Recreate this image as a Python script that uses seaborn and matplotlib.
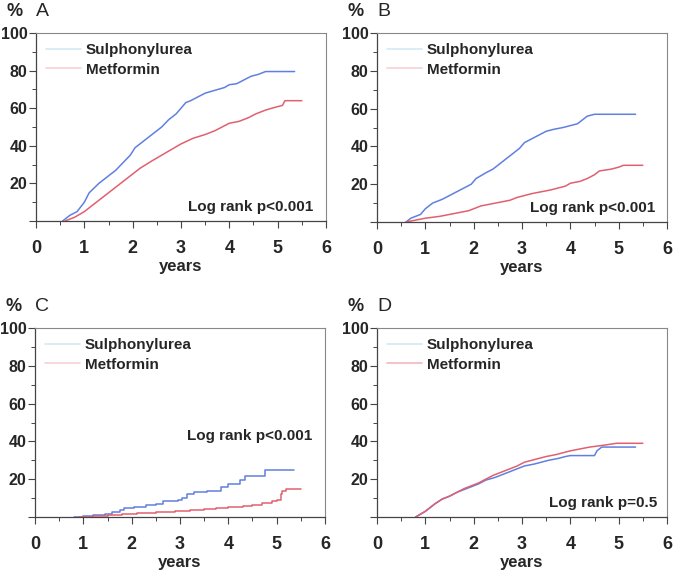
import numpy as np
import pandas as pd
import matplotlib
matplotlib.use("Agg")
import matplotlib.pyplot as plt
from matplotlib.lines import Line2D
from matplotlib.ticker import MultipleLocator, FixedLocator
import seaborn as sns

# Cumulative incidence (%)
a_su_t = [0.55, 0.7, 0.85, 1.0, 1.1, 1.3, 1.45, 1.65, 1.8, 1.95, 2.05, 2.25, 2.4, 2.6, 2.75, 2.9, 3.0, 3.1, 3.2, 3.35, 3.5, 3.7, 3.9, 4.0, 4.15, 4.3, 4.45, 4.6, 4.75, 5.35]
a_su_y = [0, 3, 5, 10, 15, 20, 23, 27, 31, 35, 39, 43, 46, 50, 54, 57, 60, 63, 64, 66, 68, 69.5, 71, 72.5, 73, 75, 77, 78, 79.5, 79.5]
a_mf_t = [0.6, 0.8, 1.0, 1.15, 1.35, 1.55, 1.75, 1.95, 2.15, 2.4, 2.6, 2.8, 3.0, 3.25, 3.5, 3.7, 3.85, 4.0, 4.2, 4.4, 4.55, 4.75, 4.95, 5.1, 5.15, 5.5]
a_mf_y = [0, 2, 5, 8, 12, 16, 20, 24, 28, 32, 35, 38, 41, 44, 46, 48, 50, 52, 53, 55, 57, 59, 60.5, 61.5, 64, 64]

b_su_t = [0.6, 0.7, 0.9, 1.0, 1.15, 1.35, 1.5, 1.65, 1.8, 1.95, 2.05, 2.25, 2.4, 2.55, 2.7, 2.85, 2.95, 3.05, 3.2, 3.35, 3.5, 3.65, 3.85, 4.0, 4.15, 4.25, 4.35, 4.5, 5.35]
b_su_y = [0, 2, 4, 7, 10, 12, 14, 16, 18, 20, 23, 26, 28, 31, 34, 37, 39, 42, 44, 46, 48, 49, 50, 51, 52, 54, 56, 57, 57]
b_mf_t = [0.6, 0.8, 1.0, 1.3, 1.5, 1.7, 1.9, 2.0, 2.15, 2.35, 2.55, 2.75, 2.9, 3.05, 3.2, 3.4, 3.6, 3.75, 3.9, 4.0, 4.2, 4.35, 4.5, 4.6, 4.85, 5.0, 5.1, 5.5]
b_mf_y = [0, 1, 2, 3, 4, 5, 6, 7, 8.5, 9.5, 10.5, 11.5, 13, 14, 15, 16, 17, 18, 19, 20.5, 21.5, 23, 25, 27, 28, 29, 30, 30]

c_su_t = [0.8, 1.0, 1.2, 1.45, 1.6, 1.75, 1.85, 2.05, 2.3, 2.5, 2.65, 2.95, 3.05, 3.15, 3.3, 3.55, 3.75, 3.85, 4.0, 4.25, 4.35, 4.75, 5.35]
c_su_y = [0, 0.5, 1, 1.5, 2.5, 3.5, 5, 5.5, 6.5, 7, 8.5, 9, 10, 12, 13, 13.5, 14, 16, 17.5, 19.5, 21.5, 25, 25]
c_mf_t = [0.9, 1.2, 1.5, 1.8, 2.1, 2.5, 2.9, 3.2, 3.5, 3.75, 3.9, 4.0, 4.3, 4.5, 4.7, 4.9, 5.0, 5.08, 5.12, 5.2, 5.5]
c_mf_y = [0, 0.5, 1, 1.5, 2, 2.5, 3, 3.5, 4, 4.5, 5, 5.5, 6, 6.5, 7.5, 8.5, 9, 12, 14, 15, 15]

d_su_t = [0.8, 0.9, 1.0, 1.1, 1.2, 1.35, 1.5, 1.65, 1.8, 1.95, 2.1, 2.25, 2.45, 2.65, 2.8, 2.95, 3.05, 3.25, 3.4, 3.55, 3.75, 3.9, 4.0, 4.5, 4.55, 4.65, 5.35]
d_su_y = [0, 1.5, 3, 5, 7, 9.5, 11, 13, 14.5, 16, 17.5, 19.5, 21, 23, 24.5, 26, 27, 28, 29, 30, 31, 32, 32.5, 32.5, 35, 37, 37]
d_mf_t = [0.8, 1.0, 1.1, 1.2, 1.35, 1.5, 1.65, 1.8, 1.95, 2.1, 2.25, 2.4, 2.6, 2.75, 2.9, 3.05, 3.2, 3.35, 3.5, 3.7, 3.85, 4.0, 4.2, 4.4, 4.7, 4.95, 5.5]
d_mf_y = [0, 3, 5, 7, 9.5, 11, 13, 15, 16.5, 18, 20, 22, 24, 25.5, 27, 29, 30, 31, 32, 33, 34, 35, 36, 37, 38, 39, 39]

panel_letters = ["A", "B", "C", "D"]
pvalue_labels = ["Log rank p<0.001", "Log rank p<0.001", "Log rank p<0.001", "Log rank p=0.5"]
series_names = ["Sulphonylurea", "Metformin"]

panels = [
    (a_su_t, a_su_y, a_mf_t, a_mf_y),
    (b_su_t, b_su_y, b_mf_t, b_mf_y),
    (c_su_t, c_su_y, c_mf_t, c_mf_y),
    (d_su_t, d_su_y, d_mf_t, d_mf_y),
]

sns.set_style("ticks")
plt.rcParams['font.family'] = ['Liberation Sans', 'DejaVu Sans']

blue = "#6080e0"
red = "#e06070"
legend_cols = [["#d4eaf2", "#f6d2d2"], ["#d4eaf2", "#f6d2d2"], ["#d4eaf2", "#f6d2d2"], ["#d4eaf2", "#f3b8bc"]]
step_style = ["default", "default", "steps-post", "default"]
pval_pos = [(0.955, 0.075), (0.96, 0.075), (0.955, 0.43), (0.965, 0.075)]

fig = plt.figure(figsize=(6.75, 5.7), dpi=100)
ax_rects = [
    (36 / 675, 1 - 221 / 570, 290 / 675, 188 / 570),
    (377 / 675, 1 - 222 / 570, 290 / 675, 189 / 570),
    (35 / 675, 1 - 517 / 570, 290 / 675, 189 / 570),
    (377 / 675, 1 - 517 / 570, 290 / 675, 189 / 570),
]

for i, (su_t, su_y, mf_t, mf_y) in enumerate(panels):
    ax = fig.add_axes(ax_rects[i])
    df = pd.concat([
        pd.DataFrame({"years": su_t, "pct": su_y, "group": series_names[0]}),
        pd.DataFrame({"years": mf_t, "pct": mf_y, "group": series_names[1]}),
    ])
    sns.lineplot(data=df, x="years", y="pct", hue="group",
                 palette={series_names[0]: blue, series_names[1]: red},
                 estimator=None, sort=False, legend=False, lw=1.1,
                 drawstyle=step_style[i], ax=ax)

    ax.set_xlim(0, 6)
    ax.set_ylim(0, 100)
    ax.xaxis.set_major_locator(MultipleLocator(1))
    ax.xaxis.set_minor_locator(MultipleLocator(0.5))
    ax.yaxis.set_major_locator(FixedLocator([0, 20, 40, 60, 80, 100]))
    ax.yaxis.set_minor_locator(MultipleLocator(10))
    ax.set_yticklabels(["", "20", "40", "60", "80", "100"])
    ax.tick_params(axis="both", which="major", length=5, width=0.8, color="#444444",
                   labelsize=11.5)
    ax.tick_params(axis="both", which="minor", length=3, width=0.7, color="#444444")
    ax.tick_params(axis="x", which="major", pad=9, labelsize=13)
    ax.tick_params(axis="y", which="major", pad=1)
    for lab in ax.get_xticklabels() + ax.get_yticklabels():
        lab.set_fontweight("bold")
    for side in ["left", "bottom"]:
        ax.spines[side].set_color("#444444")
        ax.spines[side].set_linewidth(0.9)
    for side in ["top", "right"]:
        ax.spines[side].set_color("#888888")
        ax.spines[side].set_linewidth(0.8)

    ax.set_xlabel("years", fontsize=12, fontweight="bold", labelpad=1)
    ax.set_ylabel("")

    handles = [Line2D([], [], color=legend_cols[i][0], lw=1.2),
               Line2D([], [], color=legend_cols[i][1], lw=1.2)]
    ax.legend(handles, series_names, loc="upper left", frameon=False,
              prop={"weight": "bold", "size": 11}, handlelength=2.3,
              handletextpad=0.3, labelspacing=0.38, borderaxespad=0.3,
              borderpad=0.35)

    ax.text(pval_pos[i][0], pval_pos[i][1], pvalue_labels[i], transform=ax.transAxes,
            ha="right", va="center", fontsize=11, fontweight="bold")

    ax.annotate("%", xy=(0, 1), xycoords="axes fraction", xytext=(-21, 12),
                textcoords="offset points", ha="left", va="baseline",
                fontsize=13, fontweight="bold")
    ax.annotate(panel_letters[i], xy=(0, 1), xycoords="axes fraction", xytext=(0, 12),
                textcoords="offset points", ha="left", va="baseline",
                fontsize=14)

fig.savefig("out.png", dpi=100)
